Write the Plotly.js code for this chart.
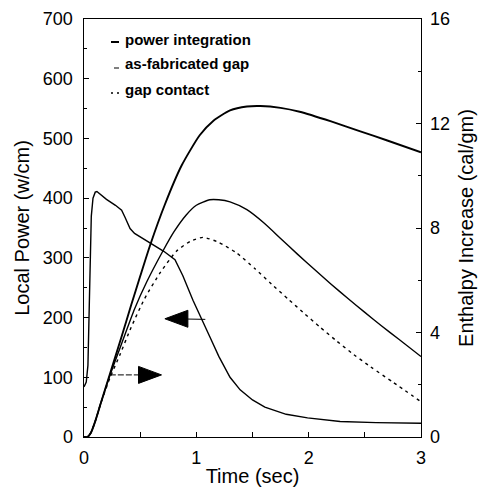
<!DOCTYPE html>
<html>
<head>
<meta charset="utf-8">
<script src="https://cdn.plot.ly/plotly-3.0.1.min.js"></script>
<style>
  html, body { margin: 0; padding: 0; background: #fff; }
  #chart { width: 480px; height: 489px; }
</style>
</head>
<body>
<div id="chart"></div>
<script>
// ---- Data ----
const powerTime = [0, 0.02, 0.035, 0.045, 0.055, 0.065, 0.08, 0.1, 0.115, 0.2, 0.28, 0.335, 0.365, 0.39, 0.41, 0.45, 0.5, 0.59, 0.71, 0.81, 0.88, 0.97, 1.05, 1.12, 1.2, 1.3, 1.39, 1.5, 1.61, 1.8, 1.99, 2.28, 2.6, 3.0];
const localPower = [84, 92, 120, 200, 300, 370, 400, 410, 411, 398, 388, 380, 368, 356, 349, 341, 335, 324, 311, 297, 270, 229, 195, 168, 135, 100, 79, 62, 50, 38, 32, 26, 24, 23];

const piTime = [0, 0.03, 0.06, 0.1, 0.15, 0.23, 0.335, 0.42, 0.5, 0.59, 0.72, 0.87, 1.03, 1.15, 1.3, 1.45, 1.57, 1.75, 1.92, 2.2, 2.46, 2.7, 3.0];
const powerIntegration = [0, 0, 0.15, 0.6, 1.3, 2.4, 3.85, 5.05, 6.15, 7.36, 8.9, 10.4, 11.55, 12.1, 12.5, 12.65, 12.67, 12.6, 12.45, 12.08, 11.7, 11.35, 10.9];

const afgTime = [0, 0.03, 0.06, 0.1, 0.15, 0.23, 0.35, 0.45, 0.56, 0.7, 0.8, 0.91, 1.0, 1.12, 1.2, 1.3, 1.45, 1.6, 1.75, 1.9, 2.05, 2.2, 2.35, 2.5, 2.65, 2.8, 3.0];
const asFabricatedGap = [0, 0, 0.15, 0.6, 1.3, 2.35, 3.75, 4.9, 5.95, 7.1, 7.85, 8.5, 8.87, 9.08, 9.08, 9.0, 8.7, 8.2, 7.6, 7.0, 6.42, 5.85, 5.3, 4.77, 4.25, 3.75, 3.08];

const gcTime = [0, 0.03, 0.06, 0.1, 0.15, 0.23, 0.32, 0.42, 0.54, 0.68, 0.825, 0.95, 1.06, 1.2, 1.36, 1.52, 1.67, 1.82, 1.95, 2.1, 2.25, 2.4, 2.55, 2.75, 3.0];
const gapContact = [0, 0, 0.15, 0.6, 1.3, 2.25, 3.15, 4.2, 5.3, 6.3, 7.12, 7.5, 7.64, 7.45, 7.04, 6.45, 5.85, 5.27, 4.77, 4.21, 3.67, 3.16, 2.69, 2.1, 1.35];

const xTickVals = [0, 0.5, 1, 1.5, 2, 2.5, 3];
const xTickText = ['0', '', '1', '', '2', '', '3'];
const legendLabels = ['power integration', 'as-fabricated gap', 'gap contact'];

// ---- Layout helpers (pixel -> paper) ----
const L = 84, R = 421, T = 19, B = 437;
const px = v => (v - L) / (R - L);
const py = v => (B - v) / (B - T);

const traces = [
  { x: powerTime, y: localPower, type: 'scatter', mode: 'lines', yaxis: 'y',
    line: { color: '#000', width: 1.4 }, name: 'Local power', showlegend: false },
  { x: piTime, y: powerIntegration, type: 'scatter', mode: 'lines', yaxis: 'y2',
    line: { color: '#000', width: 1.9, shape: 'spline', smoothing: 0.6 }, name: legendLabels[0], showlegend: false },
  { x: afgTime, y: asFabricatedGap, type: 'scatter', mode: 'lines', yaxis: 'y2',
    line: { color: '#000', width: 1.4, shape: 'spline', smoothing: 0.6 }, name: legendLabels[1], showlegend: false },
  { x: gcTime, y: gapContact, type: 'scatter', mode: 'lines', yaxis: 'y2',
    line: { color: '#000', width: 1.4, dash: '3px,4px', shape: 'spline', smoothing: 0.6 }, name: legendLabels[2], showlegend: false }
];

const font = { family: 'Liberation Sans, Arial, sans-serif', color: '#000' };

const shapes = [
  // legend glyphs
  { type: 'line', xref: 'paper', yref: 'paper', x0: px(111), x1: px(119), y0: py(42), y1: py(42), line: { color: '#000', width: 2 } },
  { type: 'line', xref: 'paper', yref: 'paper', x0: px(114), x1: px(119), y0: py(68), y1: py(68), line: { color: '#000', width: 1 } },
  { type: 'line', xref: 'paper', yref: 'paper', x0: px(111), x1: px(120), y0: py(93), y1: py(93), line: { color: '#000', width: 1.5, dash: '2px,4px' } },
  // arrow shafts
  { type: 'line', xref: 'x', yref: 'y', x0: 0.78, x1: 1.08, y0: 198, y1: 197, line: { color: '#000', width: 1 } },
  { type: 'line', xref: 'x', yref: 'y', x0: 0.23, x1: 0.62, y0: 104, y1: 104, line: { color: '#000', width: 1, dash: '6px,2px' } },
  // arrow heads (pixel-sized triangles anchored in data space)
  { type: 'path', xref: 'x', yref: 'y', xsizemode: 'pixel', ysizemode: 'pixel', xanchor: 0.72, yanchor: 198,
    path: 'M0,0 L23,8.5 L23,-8.5 Z', fillcolor: '#000', line: { color: '#000', width: 1 } },
  { type: 'path', xref: 'x', yref: 'y', xsizemode: 'pixel', ysizemode: 'pixel', xanchor: 0.69, yanchor: 104,
    path: 'M0,0 L-23,8.5 L-23,-8.5 Z', fillcolor: '#000', line: { color: '#000', width: 1 } }
];

const annotations = [
  { xref: 'paper', yref: 'paper', x: px(123), y: py(40), xanchor: 'left', yanchor: 'middle', showarrow: false,
    text: legendLabels[0], font: Object.assign({}, font, { size: 15, weight: 'bold' }) },
  { xref: 'paper', yref: 'paper', x: px(123), y: py(64), xanchor: 'left', yanchor: 'middle', showarrow: false,
    text: legendLabels[1], font: Object.assign({}, font, { size: 15, weight: 'bold' }) },
  { xref: 'paper', yref: 'paper', x: px(123), y: py(89), xanchor: 'left', yanchor: 'middle', showarrow: false,
    text: legendLabels[2], font: Object.assign({}, font, { size: 15, weight: 'bold' }) }
];

const layout = {
  width: 480, height: 489,
  margin: { l: L, r: 480 - R, t: T, b: 489 - B, pad: 0 },
  paper_bgcolor: '#fff', plot_bgcolor: '#fff',
  font: Object.assign({}, font, { size: 18 }),
  showlegend: false,
  xaxis: {
    range: [0, 3], tickvals: xTickVals, ticktext: xTickText,
    ticks: 'inside', ticklen: 5, tickwidth: 1, tickcolor: '#000',
    showline: true, linecolor: '#000', linewidth: 1.3, mirror: true,
    showgrid: false, zeroline: false, ticklabelstandoff: 4,
    tickfont: { size: 18 },
    title: { text: 'Time (sec)', font: { size: 20 }, standoff: 2 }
  },
  yaxis: {
    range: [0, 700], dtick: 100, tick0: 0,
    ticks: 'inside', ticklen: 5, tickwidth: 1, tickcolor: '#000',
    minor: { dtick: 50, ticks: 'inside', ticklen: 3, tickcolor: '#000', showgrid: false },
    showline: true, linecolor: '#000', linewidth: 1.5,
    showgrid: false, zeroline: false, ticklabelstandoff: 6,
    tickfont: { size: 18 },
    title: { text: 'Local Power (w/cm)', font: { size: 20 }, standoff: 8 }
  },
  yaxis2: {
    overlaying: 'y', side: 'right', anchor: 'x',
    range: [0, 16], dtick: 4, tick0: 0,
    ticks: 'inside', ticklen: 5, tickwidth: 1, tickcolor: '#000',
    minor: { dtick: 2, ticks: 'inside', ticklen: 3, tickcolor: '#000', showgrid: false },
    showline: true, linecolor: '#000', linewidth: 1.3,
    showgrid: false, zeroline: false, ticklabelstandoff: 4,
    tickfont: { size: 18 },
    title: { text: 'Enthalpy Increase (cal/gm)', font: { size: 20 }, standoff: 10 }
  },
  shapes: shapes,
  annotations: annotations
};

Plotly.newPlot('chart', traces, layout, { staticPlot: true, displayModeBar: false });
</script>
</body>
</html>
